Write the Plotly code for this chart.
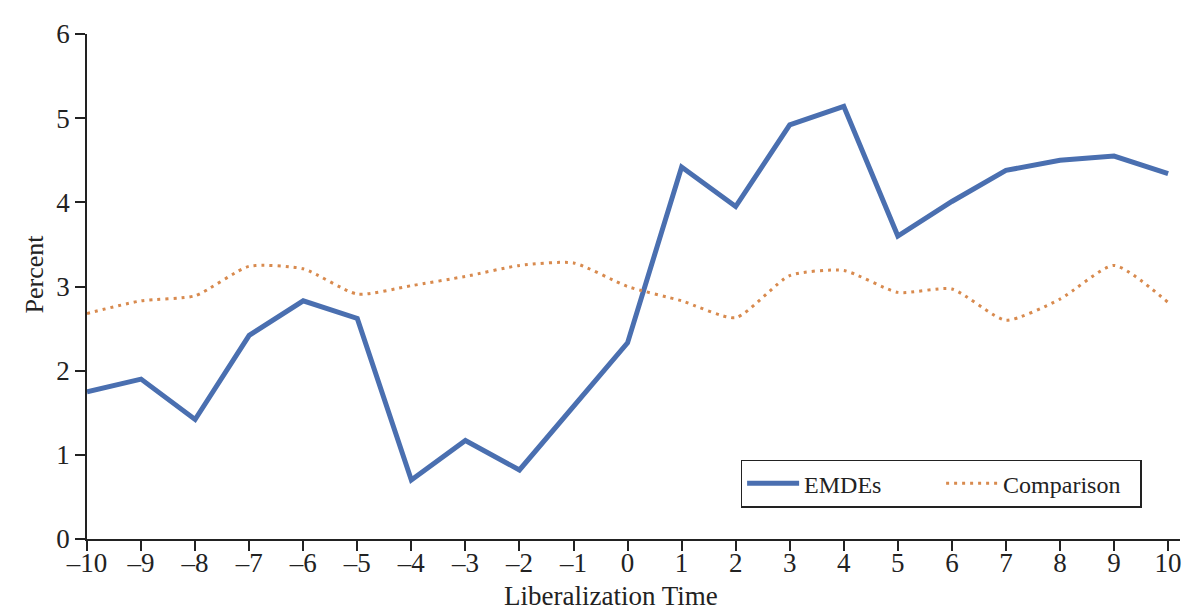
import plotly.graph_objects as go

x_vals = list(range(-10, 11))
emdes = [1.75, 1.90, 1.42, 2.42, 2.83, 2.62, 0.70, 1.17, 0.82, 1.57, 2.33,
         4.42, 3.95, 4.92, 5.14, 3.60, 4.01, 4.38, 4.50, 4.55, 4.34]
comparison = [2.68, 2.83, 2.89, 3.24, 3.21, 2.91, 3.01, 3.12, 3.25, 3.28, 3.00,
              2.83, 2.63, 3.13, 3.19, 2.93, 2.97, 2.60, 2.85, 3.25, 2.81]
x_ticklabels = [str(v).replace("-", "\u2013") for v in x_vals]
x_title = "Liberalization Time"
y_title = "Percent"

font_family = "Liberation Serif, DejaVu Serif, serif"

fig = go.Figure()
fig.add_trace(go.Scatter(x=x_vals, y=emdes, mode="lines", name="EMDEs",
                         line=dict(color="#4a6fb0", width=5)))
fig.add_trace(go.Scatter(x=x_vals, y=comparison, mode="lines", name="Comparison",
                         line=dict(color="#d88a4e", width=3, dash="3px,5px",
                                   shape="spline", smoothing=0.6)))

fig.update_layout(
    width=1192, height=608,
    margin=dict(l=79, r=20, t=26, b=77, autoexpand=False),
    paper_bgcolor="white", plot_bgcolor="white",
    font=dict(family=font_family, color="#222222", size=26),
    legend=dict(orientation="h", x=0.598, y=0.157, xanchor="left", yanchor="top",
                bordercolor="#222222", borderwidth=1.5, bgcolor="white",
                font=dict(size=24), itemwidth=52, entrywidth=132),
    showlegend=True,
)
fig.add_annotation(text=x_title, xref="paper", yref="paper", x=0.479, y=-0.112,
                   xanchor="center", yanchor="middle", showarrow=False,
                   font=dict(size=27))
fig.add_annotation(text=y_title, xref="paper", yref="paper", x=-0.048, y=0.525,
                   xanchor="center", yanchor="middle", showarrow=False,
                   textangle=-90, font=dict(size=26))
fig.update_xaxes(
    range=[-10, 10.22], tickmode="array", tickvals=x_vals, ticktext=x_ticklabels,
    showgrid=False, zeroline=False, showline=True, linecolor="#222222", linewidth=1.5,
    ticks="outside", ticklen=10, tickwidth=1.5, tickcolor="#222222",
    tickfont=dict(size=27), ticklabelstandoff=-11,
)
fig.update_yaxes(
    range=[0, 6], tickvals=[0, 1, 2, 3, 4, 5, 6],
    showgrid=False, zeroline=False, showline=True, linecolor="#222222", linewidth=1.5,
    ticks="outside", ticklen=10, tickwidth=1.5, tickcolor="#222222",
    tickfont=dict(size=27),
)

fig.write_html("out.html")
